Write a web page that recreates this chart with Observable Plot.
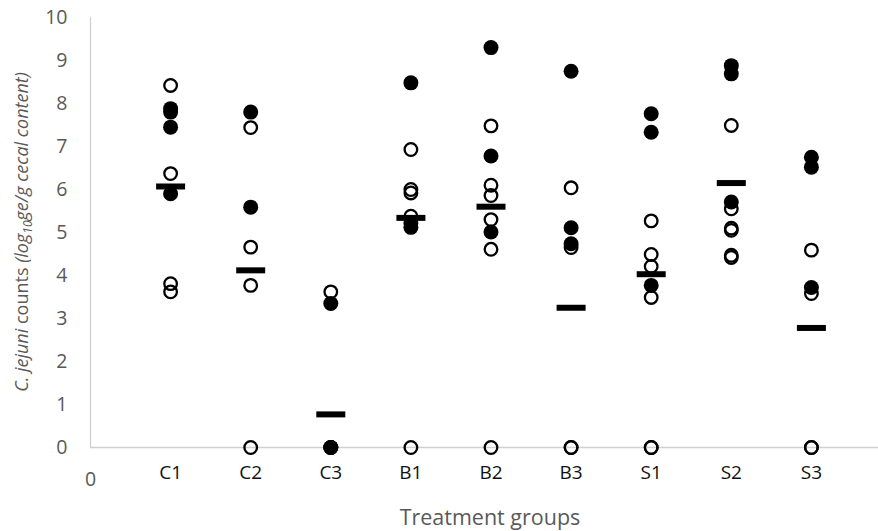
<!DOCTYPE html>
<html>
<head>
<meta charset="utf-8">
<script src="https://cdn.jsdelivr.net/npm/d3@7"></script>
<script src="https://cdn.jsdelivr.net/npm/@observablehq/plot@0.6"></script>
<style>
  html, body { margin: 0; padding: 0; background: #fff; }
  #chart svg { display: block; }
</style>
</head>
<body>
<div id="chart"></div>
<script>
// Treatment groups (x positions 1..9)
const groups = ["C1", "C2", "C3", "B1", "B2", "B3", "S1", "S2", "S3"];
// Open-circle values per group
const openValues = [
  [8.42, 6.37, 3.81, 3.62],
  [7.44, 4.66, 3.77, 0],
  [3.62, 0],
  [6.93, 6.00, 5.92, 5.38, 0],
  [7.48, 6.10, 5.86, 5.30, 4.61, 0],
  [6.04, 4.65, 0, 0],
  [5.27, 4.49, 4.21, 3.49, 0, 0],
  [7.49, 5.55, 5.10, 5.05, 4.47, 4.42],
  [4.59, 3.58, 0, 0]
];
// Filled-circle values per group
const filledValues = [
  [7.88, 7.80, 7.45, 5.90],
  [7.80, 5.59],
  [3.35, 0, 0],
  [8.48, 5.22, 5.12],
  [9.30, 6.78, 5.01],
  [8.75, 5.11, 4.74],
  [7.76, 7.33, 3.77],
  [8.88, 8.69, 5.71],
  [6.75, 6.52, 3.72]
];
// Group means (horizontal bars)
const means = [6.07, 4.12, 0.77, 5.34, 5.60, 3.25, 4.03, 6.15, 2.78];
const yTicks = [0, 1, 2, 3, 4, 5, 6, 7, 8, 9, 10];

const openData = openValues.flatMap((vals, i) => vals.map(v => ({x: i + 1, y: v})));
const filledData = filledValues.flatMap((vals, i) => vals.map(v => ({x: i + 1, y: v})));
const meanData = means.map((m, i) => ({x: i + 1, y: m}));

const barSymbol = { draw(ctx, size) { ctx.rect(-14.5, -3, 29, 6); } };

const FONT = "'Open Sans', sans-serif";
const GRAY = "#595959";

const chart = Plot.plot({
  width: 878,
  height: 531,
  marginLeft: 90,
  marginRight: 0,
  marginTop: 17,
  marginBottom: 84,
  style: { fontFamily: FONT, fontSize: "19px", background: "#fff", overflow: "hidden" },
  x: { domain: [0, 10], range: [90, 891] },
  y: { domain: [0, 10], range: [447, 17] },
  marks: [
    Plot.ruleX([0], { stroke: "#d0d0d0", strokeWidth: 1.3 }),
    Plot.ruleY([0], { stroke: "#d0d0d0", strokeWidth: 1.3 }),
    Plot.axisY({ ticks: yTicks, tickSize: 0, tickPadding: 23, color: GRAY, fontSize: 19.5, label: null }),
    Plot.axisX({ ticks: [0], tickSize: 0, tickPadding: 25, color: GRAY, fontSize: 19.5, label: null }),
    Plot.axisX({ ticks: d3.range(1, 10), tickFormat: d => groups[d - 1], tickSize: 0, tickPadding: 18, color: "#111", fontSize: 19, label: null }),
    Plot.dot(openData, { x: "x", y: "y", r: 6.3, stroke: "#000", strokeWidth: 2.3, fill: "none" }),
    Plot.dot(filledData, { x: "x", y: "y", r: 7.5, fill: "#000", stroke: "none" }),
    Plot.dot(meanData, { x: "x", y: "y", symbol: barSymbol, fill: "#000", stroke: "none" })
  ]
});

document.getElementById("chart").appendChild(chart);

const svg = d3.select(chart);
// X axis title
svg.append("text")
  .attr("x", 490).attr("y", 525)
  .attr("text-anchor", "middle")
  .attr("fill", GRAY)
  .style("font-family", FONT).style("font-size", "21.5px")
  .text("Treatment groups");

// Y axis title with italic parts and subscript
const yt = svg.append("text")
  .attr("transform", "translate(28,232) rotate(-90)")
  .attr("text-anchor", "middle")
  .attr("fill", GRAY)
  .style("font-family", FONT).style("font-size", "18px");
yt.append("tspan").style("font-style", "italic").text("C. jejuni");
yt.append("tspan").text(" counts ");
yt.append("tspan").style("font-style", "italic").text("(log");
yt.append("tspan").style("font-style", "italic").style("font-size", "12px").attr("dy", 4).text("10");
yt.append("tspan").style("font-style", "italic").attr("dy", -4).text("ge/g cecal content)");
</script>
</body>
</html>
